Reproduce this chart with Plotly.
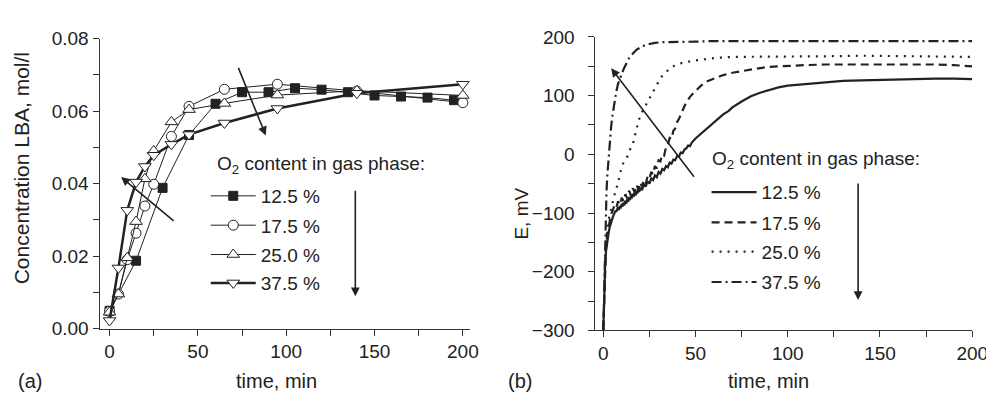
import plotly.graph_objects as go

W, H = 994, 394

# ---------------- panel (a) data ----------------
series_names = ["12.5 %", "17.5 %", "25.0 %", "37.5 %"]
t_sq = [0, 15, 30, 45, 60, 75, 90, 105, 120, 135, 150, 165, 180, 195]
c_12_5 = [0.0049, 0.0187, 0.0388, 0.0534, 0.0620, 0.0652, 0.0652, 0.0663,
          0.0659, 0.0652, 0.0643, 0.0640, 0.0637, 0.0630]
t_other = [0, 5, 10, 15, 20, 25, 35, 45, 65, 95, 140, 200]
c_17_5 = [0.0047, 0.0095, 0.0190, 0.0263, 0.0338, 0.0398, 0.0530, 0.0613,
          0.0660, 0.0674, 0.0655, 0.0623]
c_25_0 = [0.0045, 0.0095, 0.0195, 0.0295, 0.0413, 0.0490, 0.0570, 0.0604,
          0.0621, 0.0644, 0.0656, 0.0643]
c_37_5 = [0.0022, 0.0167, 0.0326, 0.0404, 0.0447, 0.0478, 0.0508, 0.0535,
          0.0567, 0.0607, 0.0649, 0.0674]

# ---------------- panel (b) data (t [min], E [mV]) ----------------
e_12_5 = [(0, -300), (0.3, -262), (0.6, -225), (1, -192), (1.5, -165), (2, -150), (2.5, -140),
          (3, -132), (3.5, -124), (4, -118), (4.5, -112), (5, -110), (5.5, -104), (6, -101),
          (6.5, -96), (7, -98), (7.5, -92), (8, -90), (8.5, -95), (9, -88), (9.5, -92),
          (10, -84), (10.5, -89), (11, -82), (11.5, -87), (12, -79), (12.5, -84), (13, -76),
          (13.5, -81), (14, -73), (14.5, -78), (15, -70), (15.5, -75), (16, -67), (16.5, -72),
          (17, -64), (17.5, -70), (18, -62), (18.5, -67), (19, -59), (19.5, -64), (20, -57),
          (21, -61), (22, -51), (23, -55), (24, -46), (25, -50), (26, -41), (27, -44),
          (28, -36), (29, -39), (30, -30), (31, -33), (32, -25), (33, -27), (34, -20),
          (35, -22), (36, -14), (37, -16), (38, -9), (39, -10), (40, -3), (41, -4), (42, 3),
          (43, 2), (44, 8), (45, 10), (46, 15), (47, 14), (48, 20), (50, 27), (53, 35),
          (56, 43), (60, 54), (63, 62), (65, 68), (68, 74), (70, 80), (75, 90), (80, 99),
          (85, 105), (90, 110), (95, 114), (100, 117), (110, 120), (120, 123), (130, 125),
          (140, 126), (150, 127), (160, 128), (170, 128), (180, 129), (190, 129), (200, 128)]
e_17_5 = [(0, -300), (0.5, -240), (1, -190), (1.5, -160), (2, -140), (3, -120),
          (4, -105), (5, -96), (6, -88), (7, -92), (8, -80), (9, -86), (10, -74),
          (11, -80), (12, -68), (13, -75), (14, -62), (15, -70), (16, -58), (17, -64),
          (18, -52), (19, -60), (20, -48), (21, -55), (22, -44), (23, -50), (24, -38),
          (25, -42), (26, -30), (27, -34), (28, -20), (29, -24), (30, -10), (31, -12),
          (32, 0), (33, -2), (34, 12), (35, 16), (36, 28), (37, 26), (38, 40),
          (39, 44), (40, 55), (41, 60), (42, 68), (43, 74), (44, 82), (45, 88),
          (47, 98), (50, 108), (53, 117), (56, 124), (60, 129), (65, 135), (70, 139),
          (75, 142), (80, 145), (85, 147), (90, 149), (100, 151), (110, 152),
          (120, 153), (130, 153), (140, 154), (150, 153), (160, 154), (170, 153),
          (180, 153), (190, 152), (200, 150)]
e_25_0 = [(0, -300), (0.5, -230), (1, -180), (1.5, -150), (2, -130), (3, -110),
          (4, -95), (5, -82), (6, -70), (7, -60), (8, -47), (9, -36), (10, -22),
          (11, -14), (12, -8), (13, -4), (14, 5), (15, 10), (16, 17), (17, 30),
          (18, 44), (19, 55), (20, 66), (21, 72), (22, 78), (24, 88), (26, 100),
          (28, 112), (30, 124), (32, 134), (34, 140), (36, 146), (38, 150), (40, 153),
          (43, 156), (46, 158), (50, 160), (55, 162), (60, 164), (70, 166), (80, 166),
          (90, 167), (100, 167), (120, 167), (140, 168), (160, 167), (180, 167),
          (200, 166)]
e_37_5 = [(0, -300), (0.3, -280), (0.5, -250), (0.7, -210), (0.9, -170), (1.1, -135),
          (1.4, -100), (1.7, -70), (2.1, -40), (2.6, -15), (3.1, 5), (3.6, 22),
          (4.2, 45), (4.8, 62), (5.5, 78), (6.3, 95), (7, 106), (8, 120), (9, 130),
          (10, 137), (11, 145), (12, 152), (13, 158), (14, 164), (15, 168), (16, 172),
          (18, 178), (20, 182), (22, 185), (25, 188), (28, 190), (32, 191), (40, 192),
          (50, 192), (60, 193), (80, 193), (100, 193), (120, 193), (140, 193),
          (160, 193), (180, 193), (200, 193)]

x_ticks = [0, 50, 100, 150, 200]
ya_ticks = [0.00, 0.02, 0.04, 0.06, 0.08]
ya_ticklabels = ["0.00", "0.02", "0.04", "0.06", "0.08"]
yb_ticks = [-300, -200, -100, 0, 100, 200]


# ---------------- helpers ----------------
def PX(x):
    return x / W


def PY(y):
    return 1 - y / H


FONT = "Liberation Sans, Arial, sans-serif"
INK = "#222222"
TICK = 19

fig = go.Figure()

# panel (a) traces
mk = dict(line=dict(color=INK, width=1))
a_markers = [dict(symbol="square", size=9, color=INK, line=dict(color=INK, width=1)),
             dict(symbol="circle", size=10, color="white", **mk),
             dict(symbol="triangle-up", size=11, color="white", **mk),
             dict(symbol="triangle-down", size=11, color="white", **mk)]
a_data = [(t_sq, c_12_5), (t_other, c_17_5), (t_other, c_25_0), (t_other, c_37_5)]
a_widths = [1, 1, 1, 2.5]
for i in range(4):
    fig.add_trace(go.Scatter(x=a_data[i][0], y=a_data[i][1], mode="lines+markers",
                             name=series_names[i], line=dict(color=INK, width=a_widths[i]),
                             marker=a_markers[i], xaxis="x", yaxis="y",
                             legend="legend" if i == 0 else f"legend{i + 1}"))

# panel (b) traces
b_data = [e_12_5, e_17_5, e_25_0, e_37_5]
b_dash = ["solid", "8px,5px", "2px,6px", "10px,4px,2px,4px"]
for i in range(4):
    tt = [p[0] for p in b_data[i]]
    ee = [p[1] for p in b_data[i]]
    fig.add_trace(go.Scatter(x=tt, y=ee, mode="lines", name=series_names[i],
                             line=dict(color=INK, width=2.2, dash=b_dash[i]),
                             xaxis="x2", yaxis="y2", legend=f"legend{i + 5}"))

axis_common = dict(showline=True, linecolor="#333", linewidth=1, showgrid=False,
                   zeroline=False, ticks="outside", ticklen=6, tickwidth=1, tickcolor="#333",
                   tickfont=dict(family=FONT, size=TICK, color=INK, weight="normal"))

layout = dict(
    width=W, height=H, margin=dict(l=0, r=0, t=0, b=0),
    paper_bgcolor="white", plot_bgcolor="white",
    font=dict(family=FONT, color=INK, weight="normal"),
    showlegend=True,
    xaxis=dict(domain=[PX(93), PX(470)], range=[-5.7, 204.3], anchor="y",
               tickvals=x_ticks, minor=dict(dtick=25, ticklen=6, ticks="outside", tickcolor="#333"),
               **axis_common),
    yaxis=dict(domain=[PY(328), PY(21.7)], range=[0, 0.08], anchor="x",
               tickvals=ya_ticks, ticktext=ya_ticklabels,
               minor=dict(dtick=0.01, ticklen=6, ticks="outside", tickcolor="#333"),
               **axis_common),
    xaxis2=dict(domain=[PX(597), PX(980)], range=[-4.27, 200], anchor="y2",
                tickvals=x_ticks, minor=dict(dtick=25, ticklen=6, ticks="outside", tickcolor="#333"),
                **axis_common),
    yaxis2=dict(domain=[PY(330), PY(20)], range=[-300, 200], anchor="x2",
                tickvals=yb_ticks, minor=dict(dtick=50, ticklen=6, ticks="outside", tickcolor="#333"),
                ticklabelstandoff=10,
                **axis_common),
)

a_rows = [188, 219, 250, 280]
b_rows = [184, 216, 247, 279]
for i in range(8):
    key = "legend" if i == 0 else f"legend{i + 1}"
    if i < 4:
        x0, yc = 201, a_rows[i]
    else:
        x0, yc = 710, b_rows[i - 4]
    layout[key] = dict(x=PX(x0), y=PY(yc), xanchor="left", yanchor="middle",
                       bgcolor="rgba(0,0,0,0)",
                       font=dict(family=FONT, size=TICK, color=INK, weight="normal"),
                       itemwidth=45, borderwidth=0)
fig.update_layout(**layout)

ann = []


def text(x, y, s, size=TICK, angle=0, xanchor="center"):
    ann.append(dict(x=PX(x), y=PY(y), xref="paper", yref="paper", text=s, showarrow=False,
                    xanchor=xanchor, yanchor="middle", textangle=angle,
                    font=dict(family=FONT, size=size, color=INK, weight="normal")))


def arrow(tail, head):
    ann.append(dict(x=PX(head[0]), y=PY(head[1]), xref="paper", yref="paper",
                    ax=tail[0] - head[0], ay=tail[1] - head[1], text="", showarrow=True,
                    arrowhead=2, arrowsize=1.1, arrowwidth=1.6, arrowcolor=INK, standoff=0,
                    startstandoff=0))


text(14, 159, "Concentration LBA, mol/l", size=21, angle=-90)
text(522, 207, "E, mV", size=19, angle=-90)
text(273, 383, "time, min", size=20)
text(773, 383, "time, min", size=20)
text(22, 383, "(a)", size=20)
text(520, 383, "(b)", size=20)
text(210, 155, "O<sub>2</sub> content in gas phase:", size=TICK, xanchor="left")
text(713, 150, "O<sub>2</sub> content in gas phase:", size=TICK, xanchor="left")

arrow((234, 55), (262, 124))
arrow((169, 213), (115, 168))
arrow((353, 187), (353, 294))
arrow((697, 163), (613, 53))
arrow((864, 180), (864, 298))

fig.update_layout(annotations=ann)
fig.write_html("out.html")
